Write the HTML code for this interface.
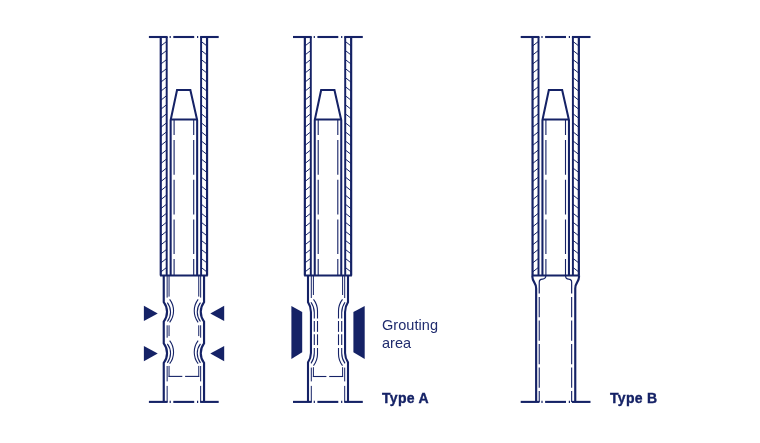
<!DOCTYPE html>
<html lang="en">
<head>
<meta charset="utf-8">
<title>Grouting types</title>
<style>
html,body{margin:0;padding:0;background:#fff;}
body{width:760px;height:443px;overflow:hidden;position:relative;font-family:"Liberation Sans",sans-serif;color:#152266;}
svg{position:absolute;left:0;top:0;display:block;}
.t{position:absolute;white-space:nowrap;}
.lbl{font-size:14.5px;line-height:17.9px;left:381.6px;top:316.5px;letter-spacing:0.05px;color:#202c6e;}
.ty{font-size:14px;font-weight:bold;line-height:16px;letter-spacing:0.3px;-webkit-text-stroke:0.35px #152266;}
.t{will-change:transform;}
</style>
</head>
<body>
<svg width="760" height="443" viewBox="0 0 760 443" fill="none" stroke="#152266" stroke-linecap="butt">
<line x1="148.90" y1="37.0" x2="167.65" y2="37.0" stroke-width="2.1"/>
<line x1="200.10" y1="37.0" x2="218.70" y2="37.0" stroke-width="2.1"/>
<line x1="173.30" y1="37.0" x2="194.20" y2="37.0" stroke-width="2.1"/>
<line x1="169.60" y1="37.0" x2="170.80" y2="37.0" stroke-width="2.1"/>
<line x1="197.00" y1="37.0" x2="198.20" y2="37.0" stroke-width="2.1"/>
<line x1="160.75" y1="37.0" x2="160.75" y2="275.55" stroke-width="2.2"/>
<line x1="166.70" y1="37.0" x2="166.70" y2="275.55" stroke-width="1.95"/>
<line x1="160.75" y1="46.05" x2="166.70" y2="41.35" stroke-width="1"/>
<line x1="160.75" y1="55.09" x2="166.70" y2="50.39" stroke-width="1"/>
<line x1="160.75" y1="64.13" x2="166.70" y2="59.43" stroke-width="1"/>
<line x1="160.75" y1="73.17" x2="166.70" y2="68.47" stroke-width="1"/>
<line x1="160.75" y1="82.21" x2="166.70" y2="77.51" stroke-width="1"/>
<line x1="160.75" y1="91.25" x2="166.70" y2="86.55" stroke-width="1"/>
<line x1="160.75" y1="100.29" x2="166.70" y2="95.59" stroke-width="1"/>
<line x1="160.75" y1="109.33" x2="166.70" y2="104.63" stroke-width="1"/>
<line x1="160.75" y1="118.37" x2="166.70" y2="113.67" stroke-width="1"/>
<line x1="160.75" y1="127.41" x2="166.70" y2="122.71" stroke-width="1"/>
<line x1="160.75" y1="136.45" x2="166.70" y2="131.75" stroke-width="1"/>
<line x1="160.75" y1="145.49" x2="166.70" y2="140.79" stroke-width="1"/>
<line x1="160.75" y1="154.53" x2="166.70" y2="149.83" stroke-width="1"/>
<line x1="160.75" y1="163.57" x2="166.70" y2="158.87" stroke-width="1"/>
<line x1="160.75" y1="172.61" x2="166.70" y2="167.91" stroke-width="1"/>
<line x1="160.75" y1="181.65" x2="166.70" y2="176.95" stroke-width="1"/>
<line x1="160.75" y1="190.69" x2="166.70" y2="185.99" stroke-width="1"/>
<line x1="160.75" y1="199.73" x2="166.70" y2="195.03" stroke-width="1"/>
<line x1="160.75" y1="208.77" x2="166.70" y2="204.07" stroke-width="1"/>
<line x1="160.75" y1="217.81" x2="166.70" y2="213.11" stroke-width="1"/>
<line x1="160.75" y1="226.85" x2="166.70" y2="222.15" stroke-width="1"/>
<line x1="160.75" y1="235.89" x2="166.70" y2="231.19" stroke-width="1"/>
<line x1="160.75" y1="244.93" x2="166.70" y2="240.23" stroke-width="1"/>
<line x1="160.75" y1="253.97" x2="166.70" y2="249.27" stroke-width="1"/>
<line x1="160.75" y1="263.01" x2="166.70" y2="258.31" stroke-width="1"/>
<line x1="160.75" y1="272.05" x2="166.70" y2="267.35" stroke-width="1"/>
<line x1="207.05" y1="37.0" x2="207.05" y2="275.55" stroke-width="2.2"/>
<line x1="201.10" y1="37.0" x2="201.10" y2="275.55" stroke-width="1.95"/>
<line x1="207.05" y1="46.05" x2="201.10" y2="41.35" stroke-width="1"/>
<line x1="207.05" y1="55.09" x2="201.10" y2="50.39" stroke-width="1"/>
<line x1="207.05" y1="64.13" x2="201.10" y2="59.43" stroke-width="1"/>
<line x1="207.05" y1="73.17" x2="201.10" y2="68.47" stroke-width="1"/>
<line x1="207.05" y1="82.21" x2="201.10" y2="77.51" stroke-width="1"/>
<line x1="207.05" y1="91.25" x2="201.10" y2="86.55" stroke-width="1"/>
<line x1="207.05" y1="100.29" x2="201.10" y2="95.59" stroke-width="1"/>
<line x1="207.05" y1="109.33" x2="201.10" y2="104.63" stroke-width="1"/>
<line x1="207.05" y1="118.37" x2="201.10" y2="113.67" stroke-width="1"/>
<line x1="207.05" y1="127.41" x2="201.10" y2="122.71" stroke-width="1"/>
<line x1="207.05" y1="136.45" x2="201.10" y2="131.75" stroke-width="1"/>
<line x1="207.05" y1="145.49" x2="201.10" y2="140.79" stroke-width="1"/>
<line x1="207.05" y1="154.53" x2="201.10" y2="149.83" stroke-width="1"/>
<line x1="207.05" y1="163.57" x2="201.10" y2="158.87" stroke-width="1"/>
<line x1="207.05" y1="172.61" x2="201.10" y2="167.91" stroke-width="1"/>
<line x1="207.05" y1="181.65" x2="201.10" y2="176.95" stroke-width="1"/>
<line x1="207.05" y1="190.69" x2="201.10" y2="185.99" stroke-width="1"/>
<line x1="207.05" y1="199.73" x2="201.10" y2="195.03" stroke-width="1"/>
<line x1="207.05" y1="208.77" x2="201.10" y2="204.07" stroke-width="1"/>
<line x1="207.05" y1="217.81" x2="201.10" y2="213.11" stroke-width="1"/>
<line x1="207.05" y1="226.85" x2="201.10" y2="222.15" stroke-width="1"/>
<line x1="207.05" y1="235.89" x2="201.10" y2="231.19" stroke-width="1"/>
<line x1="207.05" y1="244.93" x2="201.10" y2="240.23" stroke-width="1"/>
<line x1="207.05" y1="253.97" x2="201.10" y2="249.27" stroke-width="1"/>
<line x1="207.05" y1="263.01" x2="201.10" y2="258.31" stroke-width="1"/>
<line x1="207.05" y1="272.05" x2="201.10" y2="267.35" stroke-width="1"/>
<line x1="160.05" y1="275.55" x2="207.80" y2="275.55" stroke-width="2"/>
<path d="M170.65 275.55 L170.65 120.1 L177.05 90.0 L190.35 90.0 L197.15 120.1 L197.15 275.55" stroke-width="2.05" stroke-linejoin="miter"/>
<line x1="170.65" y1="119.5" x2="197.15" y2="119.5" stroke-width="2"/>
<line x1="174.10" y1="119.5" x2="174.10" y2="275.55" stroke-width="1.1" stroke-dasharray="34.7 5" stroke-dashoffset="19.2"/>
<line x1="193.70" y1="119.5" x2="193.70" y2="275.55" stroke-width="1.1" stroke-dasharray="34.7 5" stroke-dashoffset="19.2"/>
<path d="M163.75 275.55 L163.75 302.1 A16.05 16.05 0 0 1 163.75 321.6 L163.75 343.4 A16.05 16.05 0 0 1 163.75 362.9 L163.75 401.9" stroke-width="2.15" stroke-linejoin="miter"/>
<line x1="167.15" y1="275.55" x2="167.15" y2="297.6" stroke-width="1.0"/>
<line x1="169.05" y1="275.55" x2="169.05" y2="296.6" stroke-width="1.0"/>
<path d="M167.35 302.60 A15.55 15.55 0 0 1 167.35 321.50" stroke-width="1.1"/>
<path d="M169.65 299.30 A19.05 19.05 0 0 1 169.65 322.40" stroke-width="1.1"/>
<path d="M167.35 343.90 A15.55 15.55 0 0 1 167.35 362.80" stroke-width="1.1"/>
<path d="M169.65 340.60 A19.05 19.05 0 0 1 169.65 363.70" stroke-width="1.1"/>
<line x1="167.15" y1="325.3" x2="167.15" y2="337.7" stroke-width="1.0"/>
<line x1="169.05" y1="325.3" x2="169.05" y2="336.1" stroke-width="1.0"/>
<line x1="167.15" y1="366.0" x2="167.15" y2="381.4" stroke-width="1.0"/>
<line x1="167.15" y1="385.9" x2="167.15" y2="401.9" stroke-width="1.0"/>
<line x1="169.05" y1="365.9" x2="169.05" y2="376.9" stroke-width="1.0"/>
<path d="M204.05 275.55 L204.05 302.1 A16.05 16.05 0 0 0 204.05 321.6 L204.05 343.4 A16.05 16.05 0 0 0 204.05 362.9 L204.05 401.9" stroke-width="2.15" stroke-linejoin="miter"/>
<line x1="200.65" y1="275.55" x2="200.65" y2="297.6" stroke-width="1.0"/>
<line x1="198.75" y1="275.55" x2="198.75" y2="296.6" stroke-width="1.0"/>
<path d="M200.45 302.60 A15.55 15.55 0 0 0 200.45 321.50" stroke-width="1.1"/>
<path d="M198.15 299.30 A19.05 19.05 0 0 0 198.15 322.40" stroke-width="1.1"/>
<path d="M200.45 343.90 A15.55 15.55 0 0 0 200.45 362.80" stroke-width="1.1"/>
<path d="M198.15 340.60 A19.05 19.05 0 0 0 198.15 363.70" stroke-width="1.1"/>
<line x1="200.65" y1="325.3" x2="200.65" y2="337.7" stroke-width="1.0"/>
<line x1="198.75" y1="325.3" x2="198.75" y2="336.1" stroke-width="1.0"/>
<line x1="200.65" y1="366.0" x2="200.65" y2="381.4" stroke-width="1.0"/>
<line x1="200.65" y1="385.9" x2="200.65" y2="401.9" stroke-width="1.0"/>
<line x1="198.75" y1="365.9" x2="198.75" y2="376.9" stroke-width="1.0"/>
<line x1="168.60" y1="376.4" x2="182.30" y2="376.4" stroke-width="1.1"/>
<line x1="185.10" y1="376.4" x2="199.20" y2="376.4" stroke-width="1.1"/>
<line x1="148.90" y1="401.9" x2="167.65" y2="401.9" stroke-width="2.1"/>
<line x1="200.10" y1="401.9" x2="218.70" y2="401.9" stroke-width="2.1"/>
<line x1="173.30" y1="401.9" x2="194.20" y2="401.9" stroke-width="2.1"/>
<line x1="169.60" y1="401.9" x2="170.80" y2="401.9" stroke-width="2.1"/>
<line x1="197.00" y1="401.9" x2="198.20" y2="401.9" stroke-width="2.1"/>
<path d="M143.90 305.7 L157.75 313.4 L143.90 321.09999999999997 Z" fill="#152266" stroke="none"/>
<path d="M224.20 305.7 L210.30 313.4 L224.20 321.09999999999997 Z" fill="#152266" stroke="none"/>
<path d="M143.90 345.90000000000003 L157.75 353.6 L143.90 361.3 Z" fill="#152266" stroke="none"/>
<path d="M224.20 345.90000000000003 L210.30 353.6 L224.20 361.3 Z" fill="#152266" stroke="none"/>
<line x1="293.00" y1="37.0" x2="311.75" y2="37.0" stroke-width="2.1"/>
<line x1="344.20" y1="37.0" x2="362.80" y2="37.0" stroke-width="2.1"/>
<line x1="317.40" y1="37.0" x2="338.30" y2="37.0" stroke-width="2.1"/>
<line x1="313.70" y1="37.0" x2="314.90" y2="37.0" stroke-width="2.1"/>
<line x1="341.10" y1="37.0" x2="342.30" y2="37.0" stroke-width="2.1"/>
<line x1="304.85" y1="37.0" x2="304.85" y2="275.55" stroke-width="2.2"/>
<line x1="310.80" y1="37.0" x2="310.80" y2="275.55" stroke-width="1.95"/>
<line x1="304.85" y1="46.05" x2="310.80" y2="41.35" stroke-width="1"/>
<line x1="304.85" y1="55.09" x2="310.80" y2="50.39" stroke-width="1"/>
<line x1="304.85" y1="64.13" x2="310.80" y2="59.43" stroke-width="1"/>
<line x1="304.85" y1="73.17" x2="310.80" y2="68.47" stroke-width="1"/>
<line x1="304.85" y1="82.21" x2="310.80" y2="77.51" stroke-width="1"/>
<line x1="304.85" y1="91.25" x2="310.80" y2="86.55" stroke-width="1"/>
<line x1="304.85" y1="100.29" x2="310.80" y2="95.59" stroke-width="1"/>
<line x1="304.85" y1="109.33" x2="310.80" y2="104.63" stroke-width="1"/>
<line x1="304.85" y1="118.37" x2="310.80" y2="113.67" stroke-width="1"/>
<line x1="304.85" y1="127.41" x2="310.80" y2="122.71" stroke-width="1"/>
<line x1="304.85" y1="136.45" x2="310.80" y2="131.75" stroke-width="1"/>
<line x1="304.85" y1="145.49" x2="310.80" y2="140.79" stroke-width="1"/>
<line x1="304.85" y1="154.53" x2="310.80" y2="149.83" stroke-width="1"/>
<line x1="304.85" y1="163.57" x2="310.80" y2="158.87" stroke-width="1"/>
<line x1="304.85" y1="172.61" x2="310.80" y2="167.91" stroke-width="1"/>
<line x1="304.85" y1="181.65" x2="310.80" y2="176.95" stroke-width="1"/>
<line x1="304.85" y1="190.69" x2="310.80" y2="185.99" stroke-width="1"/>
<line x1="304.85" y1="199.73" x2="310.80" y2="195.03" stroke-width="1"/>
<line x1="304.85" y1="208.77" x2="310.80" y2="204.07" stroke-width="1"/>
<line x1="304.85" y1="217.81" x2="310.80" y2="213.11" stroke-width="1"/>
<line x1="304.85" y1="226.85" x2="310.80" y2="222.15" stroke-width="1"/>
<line x1="304.85" y1="235.89" x2="310.80" y2="231.19" stroke-width="1"/>
<line x1="304.85" y1="244.93" x2="310.80" y2="240.23" stroke-width="1"/>
<line x1="304.85" y1="253.97" x2="310.80" y2="249.27" stroke-width="1"/>
<line x1="304.85" y1="263.01" x2="310.80" y2="258.31" stroke-width="1"/>
<line x1="304.85" y1="272.05" x2="310.80" y2="267.35" stroke-width="1"/>
<line x1="351.15" y1="37.0" x2="351.15" y2="275.55" stroke-width="2.2"/>
<line x1="345.20" y1="37.0" x2="345.20" y2="275.55" stroke-width="1.95"/>
<line x1="351.15" y1="46.05" x2="345.20" y2="41.35" stroke-width="1"/>
<line x1="351.15" y1="55.09" x2="345.20" y2="50.39" stroke-width="1"/>
<line x1="351.15" y1="64.13" x2="345.20" y2="59.43" stroke-width="1"/>
<line x1="351.15" y1="73.17" x2="345.20" y2="68.47" stroke-width="1"/>
<line x1="351.15" y1="82.21" x2="345.20" y2="77.51" stroke-width="1"/>
<line x1="351.15" y1="91.25" x2="345.20" y2="86.55" stroke-width="1"/>
<line x1="351.15" y1="100.29" x2="345.20" y2="95.59" stroke-width="1"/>
<line x1="351.15" y1="109.33" x2="345.20" y2="104.63" stroke-width="1"/>
<line x1="351.15" y1="118.37" x2="345.20" y2="113.67" stroke-width="1"/>
<line x1="351.15" y1="127.41" x2="345.20" y2="122.71" stroke-width="1"/>
<line x1="351.15" y1="136.45" x2="345.20" y2="131.75" stroke-width="1"/>
<line x1="351.15" y1="145.49" x2="345.20" y2="140.79" stroke-width="1"/>
<line x1="351.15" y1="154.53" x2="345.20" y2="149.83" stroke-width="1"/>
<line x1="351.15" y1="163.57" x2="345.20" y2="158.87" stroke-width="1"/>
<line x1="351.15" y1="172.61" x2="345.20" y2="167.91" stroke-width="1"/>
<line x1="351.15" y1="181.65" x2="345.20" y2="176.95" stroke-width="1"/>
<line x1="351.15" y1="190.69" x2="345.20" y2="185.99" stroke-width="1"/>
<line x1="351.15" y1="199.73" x2="345.20" y2="195.03" stroke-width="1"/>
<line x1="351.15" y1="208.77" x2="345.20" y2="204.07" stroke-width="1"/>
<line x1="351.15" y1="217.81" x2="345.20" y2="213.11" stroke-width="1"/>
<line x1="351.15" y1="226.85" x2="345.20" y2="222.15" stroke-width="1"/>
<line x1="351.15" y1="235.89" x2="345.20" y2="231.19" stroke-width="1"/>
<line x1="351.15" y1="244.93" x2="345.20" y2="240.23" stroke-width="1"/>
<line x1="351.15" y1="253.97" x2="345.20" y2="249.27" stroke-width="1"/>
<line x1="351.15" y1="263.01" x2="345.20" y2="258.31" stroke-width="1"/>
<line x1="351.15" y1="272.05" x2="345.20" y2="267.35" stroke-width="1"/>
<line x1="304.15" y1="275.55" x2="351.90" y2="275.55" stroke-width="2"/>
<path d="M314.75 275.55 L314.75 120.1 L321.15 90.0 L334.45 90.0 L341.25 120.1 L341.25 275.55" stroke-width="2.05" stroke-linejoin="miter"/>
<line x1="314.75" y1="119.5" x2="341.25" y2="119.5" stroke-width="2"/>
<line x1="318.20" y1="119.5" x2="318.20" y2="275.55" stroke-width="1.1" stroke-dasharray="34.7 5" stroke-dashoffset="19.2"/>
<line x1="337.80" y1="119.5" x2="337.80" y2="275.55" stroke-width="1.1" stroke-dasharray="34.7 5" stroke-dashoffset="19.2"/>
<path d="M308.00 275.55 L308.00 302.2 A17.5 17.5 0 0 1 310.95 312 L310.95 353 A17.5 17.5 0 0 1 308.00 362.4 L308.00 401.9" stroke-width="2.1" stroke-linejoin="miter"/>
<line x1="311.30" y1="275.55" x2="311.30" y2="298.0" stroke-width="1.0"/>
<line x1="313.40" y1="275.55" x2="313.40" y2="295.0" stroke-width="1.0"/>
<path d="M311.00 302.3 A18 18 0 0 1 314.30 312.5 L314.30 318.4" stroke-width="1.1"/>
<path d="M314.30 348.1 L314.30 353 A18 18 0 0 1 311.00 363.4" stroke-width="1.1"/>
<path d="M313.50 299.3 A19 19 0 0 1 317.50 311 L317.50 318.4" stroke-width="1.1"/>
<path d="M317.50 348.1 L317.50 354 A19 19 0 0 1 313.50 365.6" stroke-width="1.1"/>
<line x1="314.30" y1="321.0" x2="314.30" y2="331.85" stroke-width="1.1"/>
<line x1="314.30" y1="334.3" x2="314.30" y2="345.1" stroke-width="1.1"/>
<line x1="317.50" y1="321.0" x2="317.50" y2="331.85" stroke-width="1.1"/>
<line x1="317.50" y1="334.3" x2="317.50" y2="345.1" stroke-width="1.1"/>
<line x1="311.30" y1="367.6" x2="311.30" y2="381.4" stroke-width="1.0"/>
<line x1="311.30" y1="385.9" x2="311.30" y2="401.9" stroke-width="1.0"/>
<line x1="313.40" y1="367.2" x2="313.40" y2="377" stroke-width="1.0"/>
<path d="M348.00 275.55 L348.00 302.2 A17.5 17.5 0 0 0 345.05 312 L345.05 353 A17.5 17.5 0 0 0 348.00 362.4 L348.00 401.9" stroke-width="2.1" stroke-linejoin="miter"/>
<line x1="344.70" y1="275.55" x2="344.70" y2="298.0" stroke-width="1.0"/>
<line x1="342.60" y1="275.55" x2="342.60" y2="295.0" stroke-width="1.0"/>
<path d="M345.00 302.3 A18 18 0 0 0 341.70 312.5 L341.70 318.4" stroke-width="1.1"/>
<path d="M341.70 348.1 L341.70 353 A18 18 0 0 0 345.00 363.4" stroke-width="1.1"/>
<path d="M342.50 299.3 A19 19 0 0 0 338.50 311 L338.50 318.4" stroke-width="1.1"/>
<path d="M338.50 348.1 L338.50 354 A19 19 0 0 0 342.50 365.6" stroke-width="1.1"/>
<line x1="341.70" y1="321.0" x2="341.70" y2="331.85" stroke-width="1.1"/>
<line x1="341.70" y1="334.3" x2="341.70" y2="345.1" stroke-width="1.1"/>
<line x1="338.50" y1="321.0" x2="338.50" y2="331.85" stroke-width="1.1"/>
<line x1="338.50" y1="334.3" x2="338.50" y2="345.1" stroke-width="1.1"/>
<line x1="344.70" y1="367.6" x2="344.70" y2="381.4" stroke-width="1.0"/>
<line x1="344.70" y1="385.9" x2="344.70" y2="401.9" stroke-width="1.0"/>
<line x1="342.60" y1="367.2" x2="342.60" y2="377" stroke-width="1.0"/>
<line x1="312.90" y1="376.5" x2="326.40" y2="376.5" stroke-width="1.1"/>
<line x1="329.20" y1="376.5" x2="343.10" y2="376.5" stroke-width="1.1"/>
<line x1="293.00" y1="401.9" x2="311.75" y2="401.9" stroke-width="2.1"/>
<line x1="344.20" y1="401.9" x2="362.80" y2="401.9" stroke-width="2.1"/>
<line x1="317.40" y1="401.9" x2="338.30" y2="401.9" stroke-width="2.1"/>
<line x1="313.70" y1="401.9" x2="314.90" y2="401.9" stroke-width="2.1"/>
<line x1="341.10" y1="401.9" x2="342.30" y2="401.9" stroke-width="2.1"/>
<path d="M291.40 306.0 L302.20 312.0 L302.20 352.3 L291.40 359.1 Z" fill="#152266" stroke="none"/>
<path d="M364.70 306.0 L353.40 312.0 L353.40 352.3 L364.70 359.1 Z" fill="#152266" stroke="none"/>
<line x1="520.70" y1="37.0" x2="539.45" y2="37.0" stroke-width="2.1"/>
<line x1="571.90" y1="37.0" x2="590.50" y2="37.0" stroke-width="2.1"/>
<line x1="545.10" y1="37.0" x2="566.00" y2="37.0" stroke-width="2.1"/>
<line x1="541.40" y1="37.0" x2="542.60" y2="37.0" stroke-width="2.1"/>
<line x1="568.80" y1="37.0" x2="570.00" y2="37.0" stroke-width="2.1"/>
<line x1="532.55" y1="37.0" x2="532.55" y2="275.55" stroke-width="2.2"/>
<line x1="538.50" y1="37.0" x2="538.50" y2="275.55" stroke-width="1.95"/>
<line x1="532.55" y1="46.05" x2="538.50" y2="41.35" stroke-width="1"/>
<line x1="532.55" y1="55.09" x2="538.50" y2="50.39" stroke-width="1"/>
<line x1="532.55" y1="64.13" x2="538.50" y2="59.43" stroke-width="1"/>
<line x1="532.55" y1="73.17" x2="538.50" y2="68.47" stroke-width="1"/>
<line x1="532.55" y1="82.21" x2="538.50" y2="77.51" stroke-width="1"/>
<line x1="532.55" y1="91.25" x2="538.50" y2="86.55" stroke-width="1"/>
<line x1="532.55" y1="100.29" x2="538.50" y2="95.59" stroke-width="1"/>
<line x1="532.55" y1="109.33" x2="538.50" y2="104.63" stroke-width="1"/>
<line x1="532.55" y1="118.37" x2="538.50" y2="113.67" stroke-width="1"/>
<line x1="532.55" y1="127.41" x2="538.50" y2="122.71" stroke-width="1"/>
<line x1="532.55" y1="136.45" x2="538.50" y2="131.75" stroke-width="1"/>
<line x1="532.55" y1="145.49" x2="538.50" y2="140.79" stroke-width="1"/>
<line x1="532.55" y1="154.53" x2="538.50" y2="149.83" stroke-width="1"/>
<line x1="532.55" y1="163.57" x2="538.50" y2="158.87" stroke-width="1"/>
<line x1="532.55" y1="172.61" x2="538.50" y2="167.91" stroke-width="1"/>
<line x1="532.55" y1="181.65" x2="538.50" y2="176.95" stroke-width="1"/>
<line x1="532.55" y1="190.69" x2="538.50" y2="185.99" stroke-width="1"/>
<line x1="532.55" y1="199.73" x2="538.50" y2="195.03" stroke-width="1"/>
<line x1="532.55" y1="208.77" x2="538.50" y2="204.07" stroke-width="1"/>
<line x1="532.55" y1="217.81" x2="538.50" y2="213.11" stroke-width="1"/>
<line x1="532.55" y1="226.85" x2="538.50" y2="222.15" stroke-width="1"/>
<line x1="532.55" y1="235.89" x2="538.50" y2="231.19" stroke-width="1"/>
<line x1="532.55" y1="244.93" x2="538.50" y2="240.23" stroke-width="1"/>
<line x1="532.55" y1="253.97" x2="538.50" y2="249.27" stroke-width="1"/>
<line x1="532.55" y1="263.01" x2="538.50" y2="258.31" stroke-width="1"/>
<line x1="532.55" y1="272.05" x2="538.50" y2="267.35" stroke-width="1"/>
<line x1="578.85" y1="37.0" x2="578.85" y2="275.55" stroke-width="2.2"/>
<line x1="572.90" y1="37.0" x2="572.90" y2="275.55" stroke-width="1.95"/>
<line x1="578.85" y1="46.05" x2="572.90" y2="41.35" stroke-width="1"/>
<line x1="578.85" y1="55.09" x2="572.90" y2="50.39" stroke-width="1"/>
<line x1="578.85" y1="64.13" x2="572.90" y2="59.43" stroke-width="1"/>
<line x1="578.85" y1="73.17" x2="572.90" y2="68.47" stroke-width="1"/>
<line x1="578.85" y1="82.21" x2="572.90" y2="77.51" stroke-width="1"/>
<line x1="578.85" y1="91.25" x2="572.90" y2="86.55" stroke-width="1"/>
<line x1="578.85" y1="100.29" x2="572.90" y2="95.59" stroke-width="1"/>
<line x1="578.85" y1="109.33" x2="572.90" y2="104.63" stroke-width="1"/>
<line x1="578.85" y1="118.37" x2="572.90" y2="113.67" stroke-width="1"/>
<line x1="578.85" y1="127.41" x2="572.90" y2="122.71" stroke-width="1"/>
<line x1="578.85" y1="136.45" x2="572.90" y2="131.75" stroke-width="1"/>
<line x1="578.85" y1="145.49" x2="572.90" y2="140.79" stroke-width="1"/>
<line x1="578.85" y1="154.53" x2="572.90" y2="149.83" stroke-width="1"/>
<line x1="578.85" y1="163.57" x2="572.90" y2="158.87" stroke-width="1"/>
<line x1="578.85" y1="172.61" x2="572.90" y2="167.91" stroke-width="1"/>
<line x1="578.85" y1="181.65" x2="572.90" y2="176.95" stroke-width="1"/>
<line x1="578.85" y1="190.69" x2="572.90" y2="185.99" stroke-width="1"/>
<line x1="578.85" y1="199.73" x2="572.90" y2="195.03" stroke-width="1"/>
<line x1="578.85" y1="208.77" x2="572.90" y2="204.07" stroke-width="1"/>
<line x1="578.85" y1="217.81" x2="572.90" y2="213.11" stroke-width="1"/>
<line x1="578.85" y1="226.85" x2="572.90" y2="222.15" stroke-width="1"/>
<line x1="578.85" y1="235.89" x2="572.90" y2="231.19" stroke-width="1"/>
<line x1="578.85" y1="244.93" x2="572.90" y2="240.23" stroke-width="1"/>
<line x1="578.85" y1="253.97" x2="572.90" y2="249.27" stroke-width="1"/>
<line x1="578.85" y1="263.01" x2="572.90" y2="258.31" stroke-width="1"/>
<line x1="578.85" y1="272.05" x2="572.90" y2="267.35" stroke-width="1"/>
<line x1="531.85" y1="275.55" x2="579.60" y2="275.55" stroke-width="2"/>
<path d="M542.45 275.55 L542.45 120.1 L548.85 90.0 L562.15 90.0 L568.95 120.1 L568.95 275.55" stroke-width="2.05" stroke-linejoin="miter"/>
<line x1="542.45" y1="119.5" x2="568.95" y2="119.5" stroke-width="2"/>
<line x1="545.90" y1="119.5" x2="545.90" y2="275.55" stroke-width="1.1" stroke-dasharray="34.7 5" stroke-dashoffset="19.2"/>
<line x1="565.50" y1="119.5" x2="565.50" y2="275.55" stroke-width="1.1" stroke-dasharray="34.7 5" stroke-dashoffset="19.2"/>
<path d="M532.40 275.55 L532.40 277.0 C532.40 282 536.15 282.5 536.15 288.4 L536.15 401.9" stroke-width="2.15"/>
<path d="M545.80 275.55 L545.80 276.0 A3.1 3.1 0 0 1 542.70 279.10 L542.35 279.10 A3.1 3.1 0 0 0 539.25 282.20 L539.25 293.6" stroke-width="1.2"/>
<line x1="539.25" y1="296.90" x2="539.25" y2="317.30" stroke-width="1.1"/>
<line x1="539.25" y1="320.40" x2="539.25" y2="340.80" stroke-width="1.1"/>
<line x1="539.25" y1="343.90" x2="539.25" y2="364.30" stroke-width="1.1"/>
<line x1="539.25" y1="367.40" x2="539.25" y2="387.80" stroke-width="1.1"/>
<line x1="539.25" y1="390.90" x2="539.25" y2="401.90" stroke-width="1.1"/>
<path d="M579.00 275.55 L579.00 277.0 C579.00 282 575.25 282.5 575.25 288.4 L575.25 401.9" stroke-width="2.15"/>
<path d="M565.60 275.55 L565.60 276.0 A3.1 3.1 0 0 0 568.70 279.10 L568.55 279.10 A3.1 3.1 0 0 1 571.65 282.20 L571.65 293.6" stroke-width="1.2"/>
<line x1="571.65" y1="296.90" x2="571.65" y2="317.30" stroke-width="1.1"/>
<line x1="571.65" y1="320.40" x2="571.65" y2="340.80" stroke-width="1.1"/>
<line x1="571.65" y1="343.90" x2="571.65" y2="364.30" stroke-width="1.1"/>
<line x1="571.65" y1="367.40" x2="571.65" y2="387.80" stroke-width="1.1"/>
<line x1="571.65" y1="390.90" x2="571.65" y2="401.90" stroke-width="1.1"/>
<line x1="520.70" y1="401.9" x2="539.45" y2="401.9" stroke-width="2.1"/>
<line x1="571.90" y1="401.9" x2="590.50" y2="401.9" stroke-width="2.1"/>
<line x1="545.10" y1="401.9" x2="566.00" y2="401.9" stroke-width="2.1"/>
<line x1="541.40" y1="401.9" x2="542.60" y2="401.9" stroke-width="2.1"/>
<line x1="568.80" y1="401.9" x2="570.00" y2="401.9" stroke-width="2.1"/>
</svg>
<div class="t lbl">Grouting<br>area</div>
<div class="t ty" style="left:382px;top:390px;">Type A</div>
<div class="t ty" style="left:609.5px;top:390px;">Type B</div>
</body>
</html>
